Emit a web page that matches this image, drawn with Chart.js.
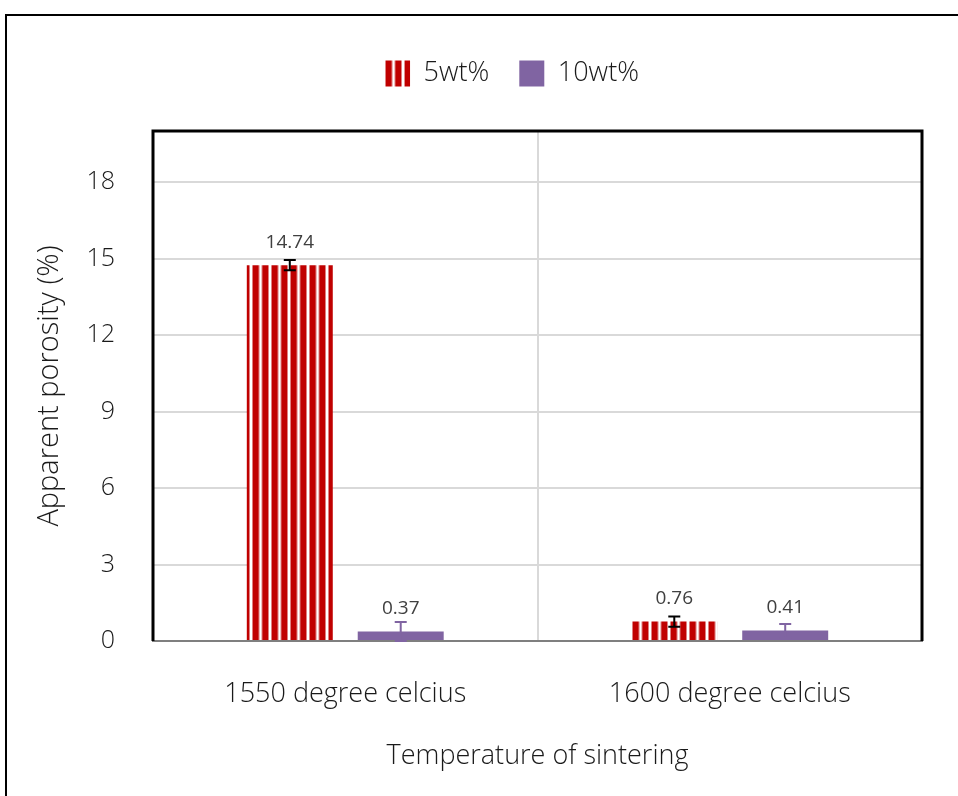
<!DOCTYPE html>
<html>
<head>
<meta charset="utf-8">
<script src="https://cdn.jsdelivr.net/npm/chart.js@4.4.1/dist/chart.umd.min.js"></script>
<style>
  html, body { margin: 0; padding: 0; background: #fff; overflow: hidden; }
  #frame { position: absolute; left: 5px; top: 14px; width: 2000px; height: 2000px; border: 2px solid #000; }
  #wrap { position: absolute; left: 0; top: 0; width: 1024px; height: 796px; }
</style>
</head>
<body>
<div id="frame"></div>
<div id="wrap"><canvas id="porosityChart" width="1024" height="796"></canvas></div>
<script>
// sintering temperatures and apparent porosity per additive content
const categories = ['1550 degree celcius', '1600 degree celcius'];
const porosity5 = [14.74, 0.76];
const porosity10 = [0.37, 0.41];
const error5 = [0.2, 0.2];
const error10 = [0.38, 0.26];
const yTicks = [0, 3, 6, 9, 12, 15, 18];

const fontFamily = "'Open Sans', 'Noto Sans', sans-serif";
const textColor = '#1a1a1a';

makeStripes = () => {
    var c = document.createElement('canvas');
    c.width = 19;
    c.height = 10;
    var g = c.getContext('2d');
    g.fillStyle = '#ffffff';
    g.fillRect(0, 0, 19, 10);
    g.fillStyle = '#c00000';
    g.fillRect(0, 0, 6.5, 10);
    g.fillRect(9.5, 0, 6.5, 10);
    var p = g.createPattern(c, 'repeat');
    p.setTransform(new DOMMatrix().translate(5.5, 0));
    return p;
};

// push the plot area down below the legend
const legendGap = {
    id: 'legendGap',
    beforeLayout(chart) {
        const legend = chart.legend;
        if (legend && !legend._gapPatched) {
            const fit = legend.fit;
            legend.fit = function () {
                fit.call(this);
                this.height += 34;
            };
            legend._gapPatched = true;
        }
    }
};

// error bars and value labels above each bar
const errorBars = {
    id: 'errorBars',
    afterDatasetsDraw(chart) {
        const ctx = chart.ctx;
        const y = chart.scales.y;
        const errs = [error5, error10];
        const colors = ['#000000', '#8064a2'];
        chart.data.datasets.forEach((ds, i) => {
            const meta = chart.getDatasetMeta(i);
            meta.data.forEach((bar, j) => {
                const v = ds.data[j];
                const hi = y.getPixelForValue(v + errs[i][j]);
                const lo = y.getPixelForValue(Math.max(v - errs[i][j], 0));
                ctx.save();
                ctx.strokeStyle = colors[i];
                ctx.lineWidth = 2;
                ctx.beginPath();
                ctx.moveTo(bar.x, hi);
                ctx.lineTo(bar.x, lo);
                ctx.moveTo(bar.x - 6, hi);
                ctx.lineTo(bar.x + 6, hi);
                ctx.moveTo(bar.x - 6, lo);
                ctx.lineTo(bar.x + 6, lo);
                ctx.stroke();
                ctx.fillStyle = '#404040';
                ctx.font = "19px " + fontFamily;
                ctx.textAlign = 'center';
                ctx.textBaseline = 'middle';
                ctx.fillText(v.toFixed(2), bar.x, y.getPixelForValue(v) - 23);
                ctx.restore();
            });
        });
    }
};

// heavy black border round the plot area
const plotFrame = {
    id: 'plotFrame',
    afterDraw(chart) {
        const a = chart.chartArea;
        const ctx = chart.ctx;
        ctx.save();
        ctx.strokeStyle = '#000';
        ctx.lineWidth = 3;
        ctx.beginPath();
        ctx.moveTo(a.left, a.bottom);
        ctx.lineTo(a.left, a.top);
        ctx.lineTo(a.right, a.top);
        ctx.lineTo(a.right, a.bottom);
        ctx.stroke();
        ctx.restore();
    }
};

displayPorosityChart = () => {
    var ctx = document.getElementById('porosityChart').getContext('2d');
    var stripes = makeStripes();
    new Chart(ctx, {
        type: 'bar',
        data: {
            labels: categories,
            datasets: [{
                label: '5wt%',
                data: porosity5,
                backgroundColor: stripes,
                borderWidth: 0
            },
            {
                label: '10wt%',
                data: porosity10,
                backgroundColor: '#8064a2',
                borderWidth: 0
            }]
        },
        options: {
            responsive: false,
            animation: false,
            events: [],
            layout: { padding: { left: 0, right: 0, top: 30, bottom: 0 } },
            datasets: {
                bar: { categoryPercentage: 0.577, barPercentage: 0.775 }
            },
            plugins: {
                legend: {
                    position: 'top',
                    labels: {
                        boxWidth: 25,
                        boxHeight: 26,
                        padding: 30,
                        color: textColor,
                        font: { family: fontFamily, size: 27, weight: 300 }
                    }
                },
                tooltip: { enabled: false }
            },
            scales: {
                x: {
                    grid: { display: true, offset: true, color: '#d9d9d9', lineWidth: 2, drawTicks: false },
                    border: { display: true, color: '#7f7f7f', width: 2 },
                    ticks: { color: textColor, padding: 37, font: { family: fontFamily, size: 27, weight: 300 } },
                    title: {
                        display: true,
                        text: 'Temperature of sintering',
                        color: textColor,
                        padding: { top: 0, bottom: 23 },
                        font: { family: fontFamily, size: 27, weight: 300 }
                    },
                    afterFit: (scale) => { scale.height = 155; }
                },
                y: {
                    min: 0,
                    max: 20,
                    grid: { color: '#d9d9d9', lineWidth: 2, drawTicks: false },
                    border: { display: false },
                    ticks: { color: textColor, padding: 38, font: { family: fontFamily, size: 25, weight: 300 } },
                    afterBuildTicks: (scale) => { scale.ticks = yTicks.map(v => ({ value: v })); },
                    title: {
                        display: true,
                        text: 'Apparent porosity (%)',
                        color: textColor,
                        padding: { top: 32, bottom: 0 },
                        font: { family: fontFamily, size: 29, weight: 300 }
                    },
                    afterFit: (scale) => { scale.width = 153; }
                },
                yRight: {
                    position: 'right',
                    grid: { display: false },
                    border: { display: false },
                    ticks: { display: false },
                    afterFit: (scale) => { scale.width = 102; }
                }
            }
        },
        plugins: [legendGap, errorBars, plotFrame]
    });
};

displayPorosityChart();
</script>
</body>
</html>
